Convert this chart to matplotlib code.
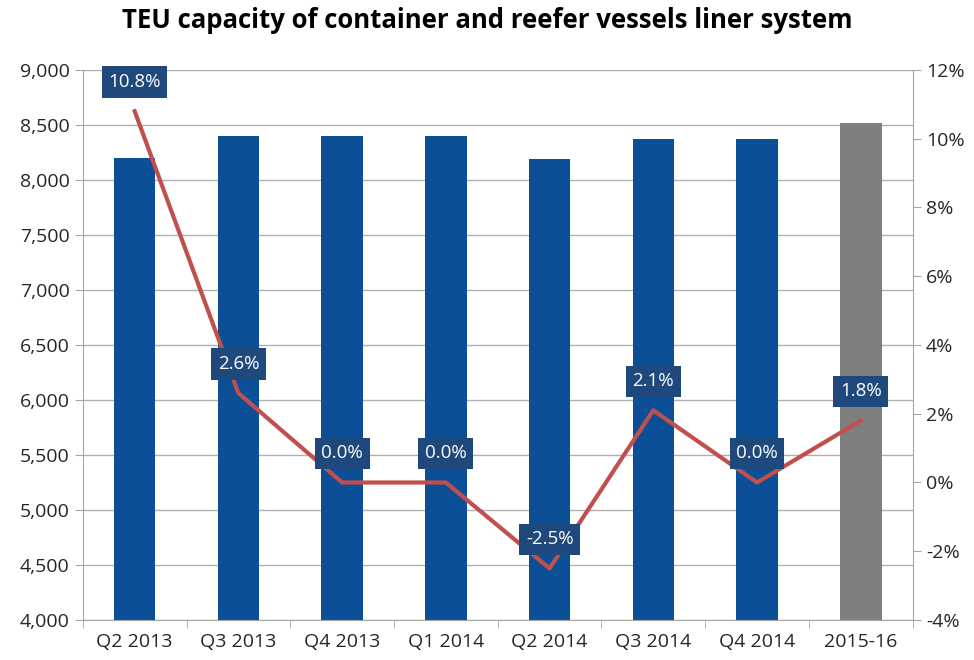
import numpy as np
import matplotlib
matplotlib.use('Agg')
import matplotlib.pyplot as plt
from matplotlib.ticker import FuncFormatter, MultipleLocator

plt.rcParams['font.family'] = ['Open Sans', 'DejaVu Sans']

periods = ['Q2 2013', 'Q3 2013', 'Q4 2013', 'Q1 2014', 'Q2 2014', 'Q3 2014', 'Q4 2014', '2015-16']
teu = [8200, 8400, 8400, 8400, 8190, 8370, 8370, 8520]
growth = [10.8, 2.6, 0.0, 0.0, -2.5, 2.1, 0.0, 1.8]

bar_colors = ['#0B4F96'] * 7 + ['#7F7F7F']

fig = plt.figure(figsize=(9.74, 6.6), dpi=100)
ax = fig.add_axes([0.085, 0.0606, 0.852, 0.8334])
x = np.arange(len(periods))

ax.bar(x, teu, width=0.4, color=bar_colors, zorder=2)
ax.set_ylim(4000, 9000)
ax.set_xlim(-0.5, len(periods) - 0.5)
ax.yaxis.set_major_locator(MultipleLocator(500))
ax.yaxis.set_major_formatter(FuncFormatter(lambda v, p: f'{int(v):,}'))
ax.grid(axis='y', color='#B0B0B0', linewidth=1, zorder=0)
ax.set_xticks(x)
ax.set_xticklabels(periods)
ax.set_xticks(np.arange(-0.5, len(periods)), minor=True)
ax.tick_params(axis='x', which='major', length=0, pad=9, labelsize=14, colors='#262626')
ax.tick_params(axis='x', which='minor', length=6, color='#A6A6A6')
ax.tick_params(axis='y', length=6, color='#A6A6A6', labelsize=14, labelcolor='#262626')
for s in ['top', 'right']:
    ax.spines[s].set_visible(False)
for s in ['left', 'bottom']:
    ax.spines[s].set_color('#A6A6A6')

ax2 = ax.twinx()
ax2.plot(x, growth, color='#C0504D', linewidth=3, zorder=3)
ax2.set_ylim(-4, 12)
ax2.yaxis.set_major_locator(MultipleLocator(2))
ax2.yaxis.set_major_formatter(FuncFormatter(lambda v, p: f'{int(v)}%'))
ax2.tick_params(axis='y', length=6, color='#A6A6A6', labelsize=14, labelcolor='#262626')
for s in ['top', 'left', 'bottom']:
    ax2.spines[s].set_visible(False)
ax2.spines['right'].set_color('#A6A6A6')

for xi, g in zip(x, growth):
    ax2.annotate(f'{g:.1f}%', (xi, g), xytext=(0, 21), textcoords='offset points',
                 ha='center', va='center', color='white', fontsize=13.5,
                 bbox=dict(boxstyle='square,pad=0.35', fc='#1F497D', ec='none'), zorder=5)

fig.suptitle('TEU capacity of container and reefer vessels liner system',
             x=0.5, y=0.99, fontsize=18.5, fontweight='bold', color='black')

fig.savefig('out.png', dpi=100, facecolor='white')
